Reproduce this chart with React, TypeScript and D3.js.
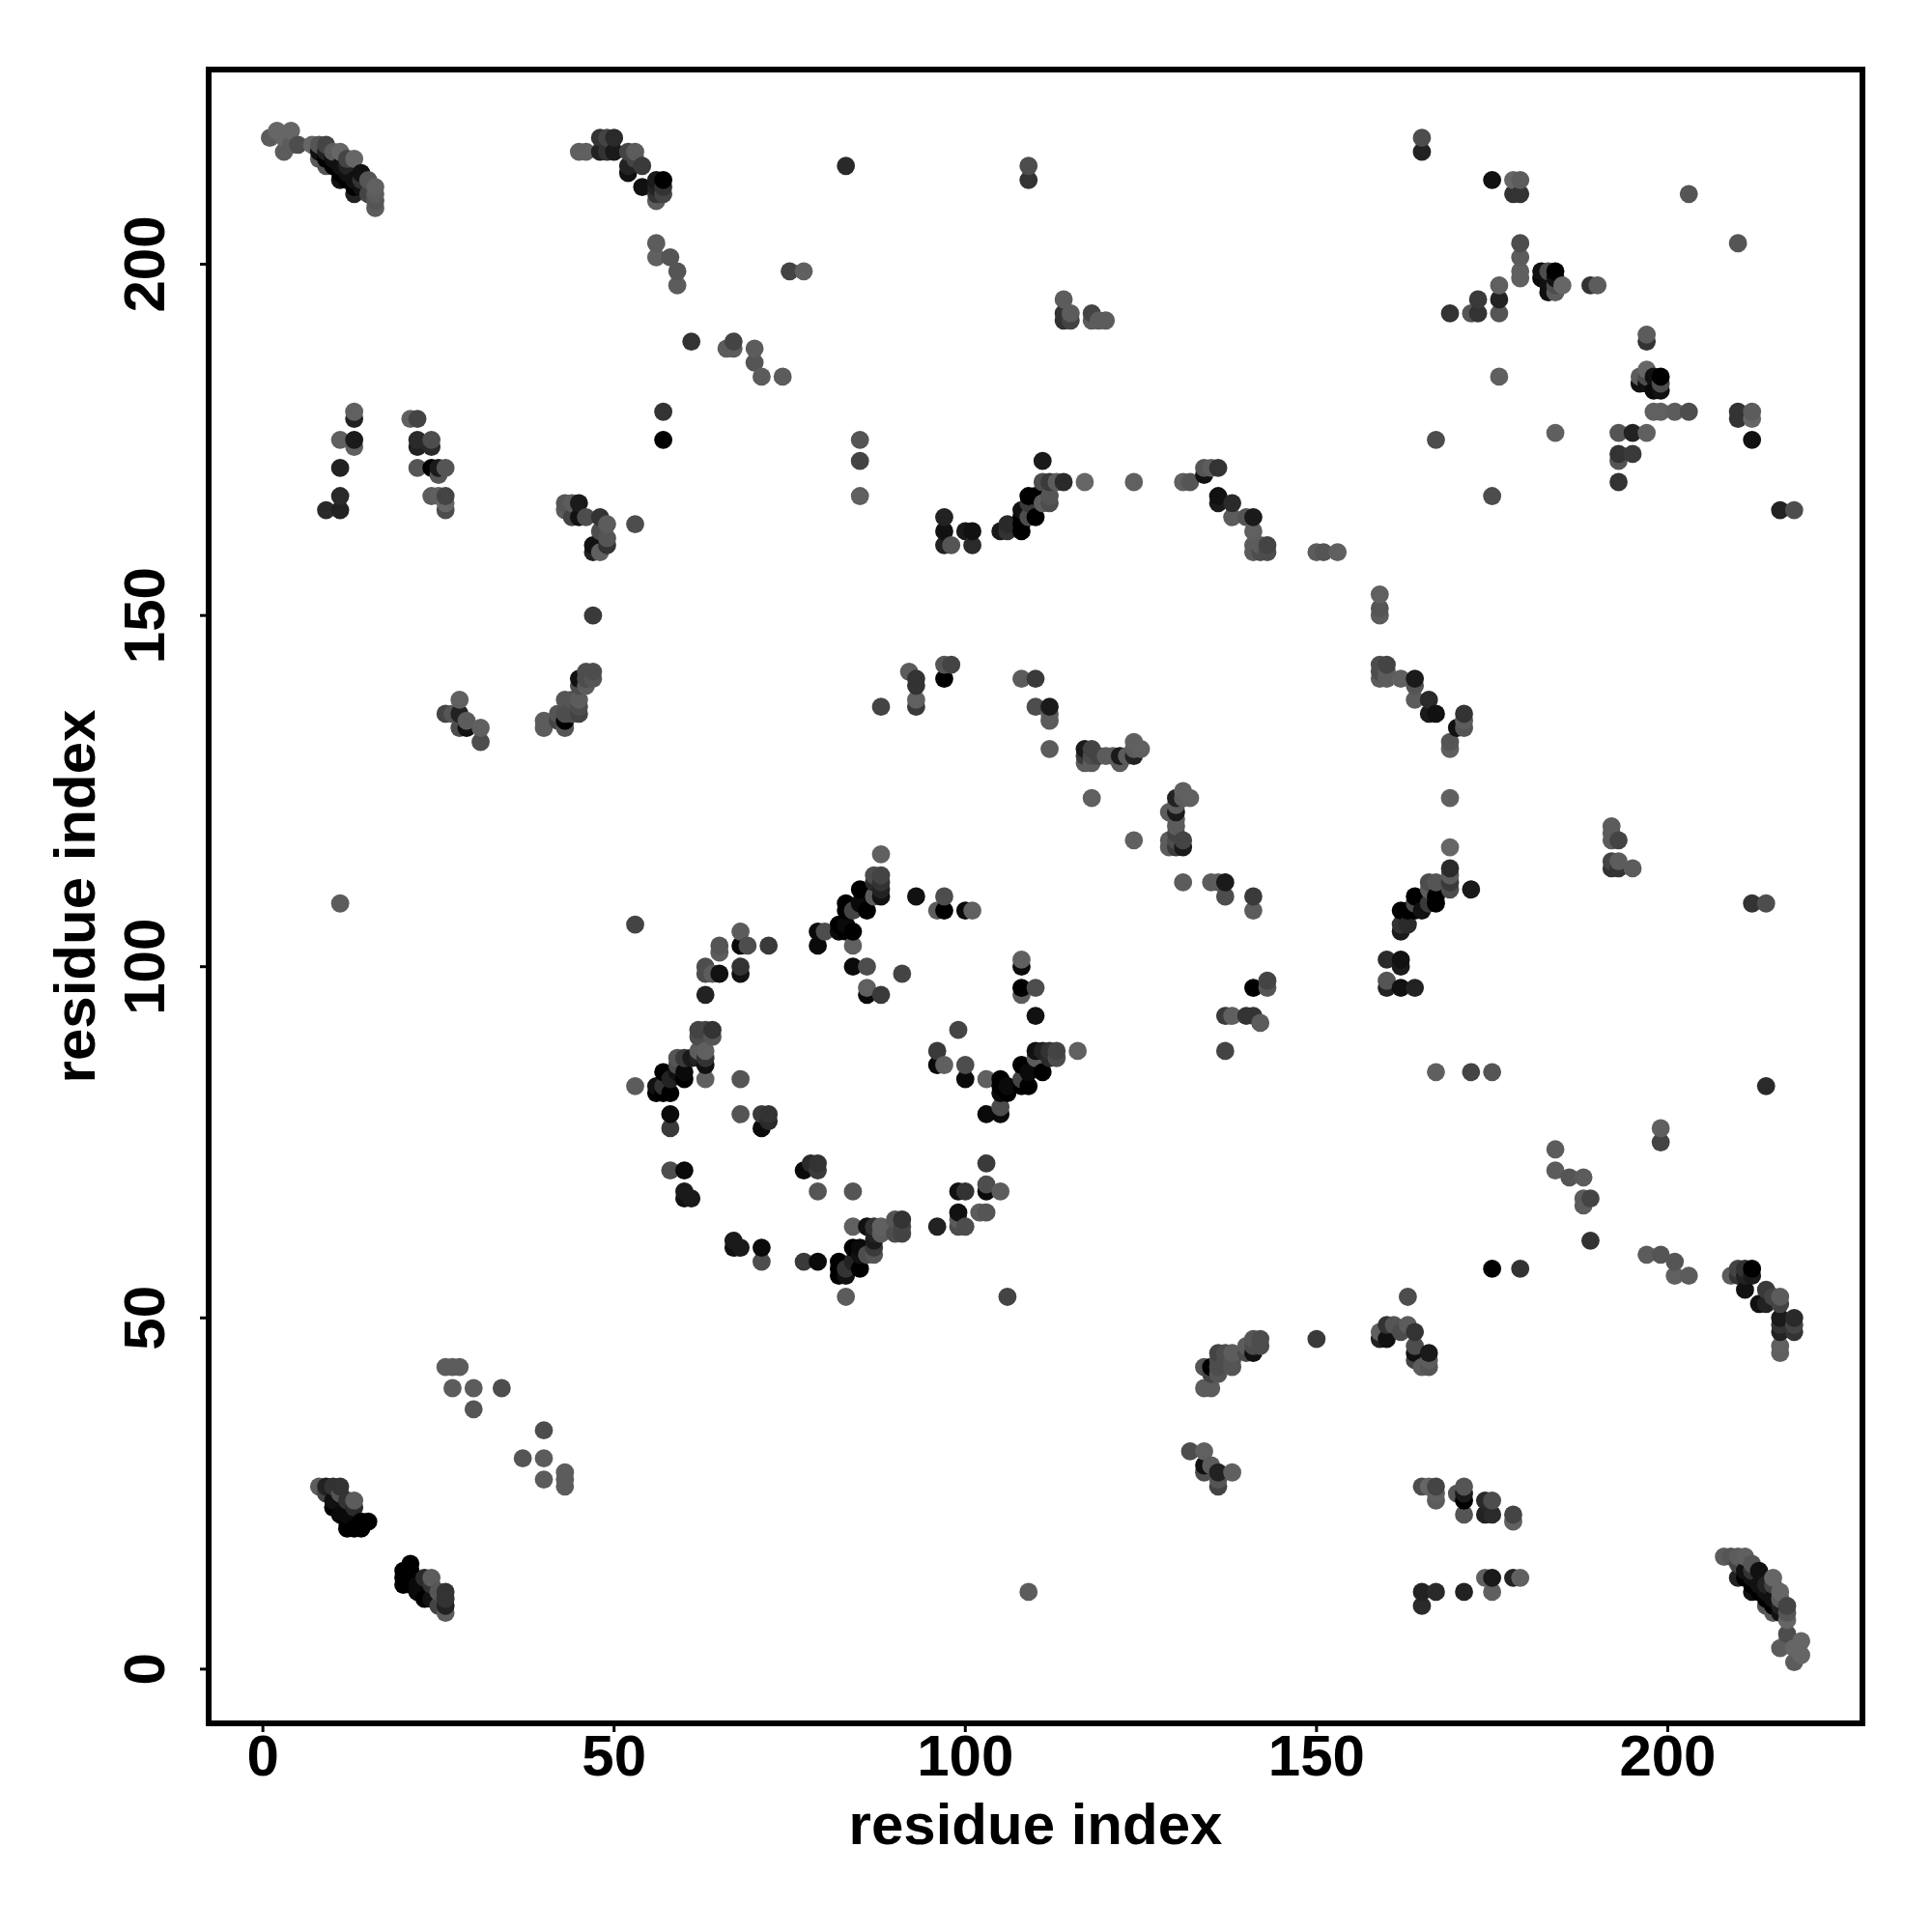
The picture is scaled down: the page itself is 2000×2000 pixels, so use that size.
import React from "react";
import * as d3 from "d3";

// Contact lists: [residue i, residue j, grey level 0..0x66], i < j; the map is symmetric.
const terminalContacts = [
  [1,218,0x5c],[2,219,0x66],[3,216,0x5c],[3,218,0x66],[4,217,0x5c],[4,219,0x66],[5,217,0x4d],[7,217,0x66],[8,217,0x55],[9,217,0x44],
  [8,216,0x11],[9,215,0x00],[10,214,0x00],[11,213,0x00],[12,212,0x00],[13,211,0x00],
  [8,215,0x5c],[9,214,0x55],[9,216,0x22],[10,216,0x5c],[10,215,0x11],[11,216,0x66],[11,214,0x11],[11,212,0x11],[12,215,0x44],[12,213,0x11],
  [12,214,0x22],[13,212,0x11],[13,210,0x22],[13,215,0x66],[14,213,0x11],[14,212,0x33],[14,211,0x11],[15,212,0x55],[15,210,0x44],
  [16,211,0x60],[16,210,0x5c],[16,209,0x55],[16,208,0x5c],
];
const helixFiftyContacts = [
  [45,216,0x60],[46,216,0x60],[48,218,0x33],[48,216,0x22],[49,218,0x44],[49,216,0x33],[50,218,0x2a],[50,216,0x1a],[52,216,0x44],[53,216,0x5c],[53,215,0x44],
  [52,214,0x22],[52,213,0x11],[54,214,0x3a],[54,211,0x11],[56,209,0x5c],[56,210,0x33],[56,211,0x22],[56,212,0x1a],[57,210,0x44],[57,211,0x33],[57,212,0x00],
  [56,203,0x5c],[56,201,0x60],[58,201,0x55],[59,199,0x5c],[59,197,0x60],[75,199,0x4d],[77,199,0x66],[61,189,0x33],[66,188,0x60],[67,188,0x5c],[67,189,0x4d],
  [70,188,0x60],[70,186,0x55],[71,184,0x5c],[74,184,0x60],[57,179,0x33],[57,175,0x00],
];
const earlyLongRange = [
  [13,179,0x60],[13,178,0x22],[11,175,0x60],[13,175,0x1a],[13,174,0x60],[11,171,0x22],[11,167,0x2a],[9,165,0x2a],[11,165,0x22],
  [21,178,0x60],[22,178,0x44],[22,175,0x2a],[22,174,0x22],[24,175,0x4d],[24,174,0x2a],[22,171,0x55],[24,171,0x00],[25,171,0x1a],[25,170,0x55],[26,171,0x55],
  [24,167,0x5c],[25,167,0x60],[26,167,0x44],[26,166,0x66],[26,165,0x4d],[11,109,0x5c],
  [43,166,0x55],[43,165,0x5c],[44,166,0x5c],[44,164,0x44],[45,166,0x1a],[45,164,0x11],[46,164,0x4d],[48,164,0x33],[49,163,0x5c],[48,162,0x4d],[49,161,0x55],[49,160,0x33],
  [47,160,0x11],[47,159,0x22],[48,159,0x60],[53,163,0x4d],[47,150,0x3a],
  [26,136,0x44],[28,138,0x60],[27,136,0x55],[28,136,0x22],[28,134,0x4d],[29,135,0x5c],[29,134,0x11],[31,134,0x60],[31,132,0x4d],
  [40,135,0x5c],[40,134,0x5c],[42,135,0x44],[43,135,0x00],[43,134,0x55],[42,136,0x55],[43,136,0x4d],[43,138,0x55],[44,138,0x55],[44,137,0x4d],[44,136,0x4d],[45,137,0x4d],[45,136,0x44],[45,138,0x5c],[45,140,0x4d],[45,141,0x11],
  [46,141,0x4d],[47,142,0x4d],[46,142,0x4d],[47,141,0x55],[46,140,0x5c],
];
const shortRangeContacts = [
  [26,43,0x5c],[27,43,0x5c],[28,43,0x5c],[27,40,0x5c],[30,40,0x5c],[34,40,0x4d],[30,37,0x55],
  [8,26,0x5c],[9,26,0x22],[10,26,0x33],[11,26,0x33],[9,25,0x44],[10,24,0x11],[10,23,0x00],[11,25,0x55],[12,24,0x33],[13,24,0x5c],[13,23,0x2a],
  [12,21,0x00],[12,20,0x00],[13,20,0x00],[14,20,0x00],[14,21,0x00],[15,21,0x00],[12,22,0x0a],[11,22,0x0a],
];
const ringContacts = [
  [53,106,0x44],[88,116,0x60],[87,113,0x4d],[88,113,0x44],[87,112,0x2a],[88,112,0x33],[88,111,0x22],[88,110,0x11],[87,110,0x5c],[85,111,0x00],[83,109,0x00],[85,109,0x0a],
  [86,108,0x00],[83,108,0x00],[84,108,0x44],[82,106,0x00],[83,106,0x0a],[84,105,0x00],[82,105,0x0a],[83,105,0x00],[79,105,0x0a],[80,105,0x4d],[79,103,0x0a],[84,103,0x60],
  [84,100,0x0a],[86,100,0x4d],[91,99,0x44],[86,97,0x60],[86,96,0x0a],[88,96,0x3a],[93,110,0x11],[97,110,0x4d],[96,108,0x5c],[97,108,0x00],[100,108,0x0a],[101,108,0x60],
  [72,103,0x3a],[68,105,0x5c],[68,103,0x0a],[69,103,0x4d],[65,103,0x55],[65,102,0x5c],[63,100,0x4d],[63,99,0x4d],[64,99,0x5c],[65,99,0x11],[68,100,0x33],[68,99,0x11],[63,96,0x22],
  [62,91,0x44],[63,91,0x44],[64,91,0x33],[62,90,0x4d],[64,90,0x55],[62,88,0x5c],[63,88,0x60],[63,87,0x33],[63,86,0x11],[62,87,0x22],[61,87,0x1a],[60,87,0x3a],[59,87,0x55],[59,86,0x4d],
  [60,84,0x00],[60,85,0x0a],[59,85,0x11],[58,84,0x22],[57,85,0x00],[56,83,0x11],[56,82,0x00],[57,82,0x00],[58,82,0x00],[57,83,0x33],[63,84,0x60],[68,84,0x55],[53,83,0x5c],
  [58,79,0x0a],[58,77,0x3a],[68,79,0x55],[71,79,0x3a],[72,79,0x33],[72,78,0x2a],[71,77,0x0a],
  [58,71,0x4d],[60,71,0x0a],[60,68,0x1a],[60,67,0x11],[61,67,0x1a],
];
const midRangeContacts = [
  [88,137,0x44],[92,142,0x5c],[93,141,0x33],[93,140,0x33],[93,138,0x60],[93,137,0x3a],[97,143,0x55],[98,143,0x44],[97,141,0x00],
  [108,141,0x5c],[110,141,0x3a],[110,137,0x4d],[112,137,0x1a],[112,136,0x5c],[112,135,0x5c],[112,131,0x5c],
  [117,131,0x1a],[117,130,0x3a],[117,129,0x5c],[118,131,0x44],[118,130,0x4d],[118,129,0x5c],[119,130,0x44],[120,130,0x5c],[121,130,0x5c],[122,130,0x1a],[122,129,0x5c],[123,130,0x5c],
  [124,132,0x60],[124,131,0x5c],[124,130,0x22],[125,131,0x60],[118,124,0x60],
];
const upperRightContacts = [
  [83,214,0x2a],[109,214,0x55],[109,212,0x33],[165,218,0x55],[165,216,0x22],[114,195,0x66],[114,193,0x33],[114,192,0x33],[115,193,0x5c],[115,192,0x44],
  [118,193,0x4d],[118,192,0x55],[119,192,0x5c],[120,192,0x5c],[85,175,0x5c],[85,172,0x44],[85,167,0x66],
  [175,212,0x11],[178,212,0x66],[179,212,0x5c],[178,210,0x33],[179,210,0x33],[203,210,0x55],
  [179,203,0x4d],[179,201,0x5c],[179,199,0x60],[179,198,0x60],[176,197,0x60],[176,195,0x22],[173,195,0x3a],[173,193,0x33],[172,193,0x55],[169,193,0x33],[176,193,0x55],
  [182,199,0x11],[182,198,0x0a],[183,199,0x4d],[184,199,0x11],[183,197,0x11],[183,196,0x11],[184,196,0x55],[185,197,0x66],[184,198,0x11],[184,197,0x5c],[189,197,0x33],[190,197,0x55],
  [167,175,0x4d],[176,184,0x60],
];
const secondHalfContacts = [
  [120,192,0x5c],[119,192,0x5c],[118,192,0x5c],[118,193,0x44],[115,192,0x44],[114,192,0x33],[115,193,0x5c],[114,193,0x33],[114,195,0x5c],
  [109,212,0x33],[109,214,0x4d],[85,167,0x60],[85,172,0x44],[85,175,0x55],[77,199,0x60],[75,199,0x44],
  [74,184,0x5c],[71,184,0x5c],[70,186,0x55],[70,188,0x5c],[67,188,0x5c],[67,189,0x44],[66,188,0x5c],[61,189,0x33],
  [57,175,0x00],[57,179,0x33],[59,197,0x5c],[59,199,0x55],[58,201,0x55],[179,212,0x5c],[178,212,0x66],[175,212,0x11],[179,210,0x33],[178,210,0x33],
  [165,216,0x22],[165,218,0x4d],[176,193,0x55],[176,195,0x22],[176,197,0x60],[173,193,0x33],[173,195,0x3a],[172,193,0x55],[169,193,0x33],
  [184,196,0x5c],[185,197,0x66],[183,196,0x11],[184,197,0x4d],[184,198,0x11],[184,199,0x00],[182,198,0x0a],[183,199,0x4d],[182,199,0x11],
  [179,198,0x60],[179,199,0x60],[179,201,0x5c],[179,203,0x4d],[190,197,0x5c],[189,197,0x33],
];
const hoopContacts = [
  [97,164,0x22],[97,162,0x11],[97,160,0x22],[98,160,0x55],[100,162,0x1a],[101,162,0x11],[101,160,0x2a],
  [111,172,0x1a],[111,169,0x4d],[112,169,0x3a],[113,169,0x5c],[114,169,0x2a],[117,169,0x66],[124,169,0x60],[131,169,0x60],[132,169,0x55],
  [134,171,0x55],[135,171,0x5c],[134,170,0x11],[136,171,0x33],
  [109,167,0x00],[110,167,0x00],[112,167,0x55],[112,166,0x4d],[111,166,0x5c],[109,166,0x3a],[108,165,0x11],[110,164,0x00],[108,164,0x00],[108,163,0x00],[108,162,0x00],[109,164,0x4d],
  [106,163,0x2a],[105,162,0x1a],[106,162,0x33],
  [136,167,0x11],[136,166,0x1a],[138,166,0x2a],[138,164,0x5c],[140,164,0x55],[141,164,0x1a],[141,162,0x60],[141,160,0x5c],[141,159,0x5c],[142,160,0x5c],[142,159,0x4d],[143,160,0x44],[143,159,0x4d],
  [150,159,0x5c],[151,159,0x55],[153,159,0x60],
];

const xTicks = [0, 50, 100, 150, 200];
const yTicks = [0, 50, 100, 150, 200];
const axisLabel = "residue index";

const allPairs = [
  ...terminalContacts, ...helixFiftyContacts, ...earlyLongRange, ...shortRangeContacts, ...ringContacts,
  ...midRangeContacts, ...upperRightContacts, ...secondHalfContacts, ...hoopContacts,
];

const SIZE = { left: 216, right: 1928, top: 72, bottom: 1784 };
const domain: [number, number] = [-7.72, 227.72];
const fontFamily = "'Liberation Sans', Arial, sans-serif";

export default function App() {
  const x = d3.scaleLinear().domain(domain).range([SIZE.left, SIZE.right]);
  const y = d3.scaleLinear().domain(domain).range([SIZE.bottom, SIZE.top]);
  const seen = new Map<string, { x: number; y: number; g: number }>();
  allPairs.forEach(([i, j, g]) => {
    seen.set(`${i}-${j}`, { x: i, y: j, g });
    seen.set(`${j}-${i}`, { x: j, y: i, g });
  });
  const points = Array.from(seen.values()).sort((a, b) => d3.ascending(a.x, b.x) || d3.ascending(a.y, b.y));
  const cx = (SIZE.left + SIZE.right) / 2;
  const cy = (SIZE.top + SIZE.bottom) / 2;
  return (
    <svg width={2000} height={2000} style={{ position: "absolute", left: 0, top: 0, background: "#fff" }}>
      {points.map((p, k) => (
        <circle key={k} cx={x(p.x)} cy={y(p.y)} r={9.4} fill={d3.rgb(p.g, p.g, p.g).formatHex()} />
      ))}
      <rect x={SIZE.left} y={SIZE.top} width={SIZE.right - SIZE.left} height={SIZE.bottom - SIZE.top} fill="none" stroke="#000" strokeWidth={6} />
      {xTicks.map((t) => (
        <g key={t}>
          <line x1={x(t)} x2={x(t)} y1={SIZE.bottom} y2={SIZE.bottom + 9} stroke="#000" strokeWidth={3} />
          <text x={x(t)} y={1838} textAnchor="middle" fontFamily={fontFamily} fontWeight="bold" fontSize={60}>{t}</text>
        </g>
      ))}
      {yTicks.map((t) => (
        <g key={t}>
          <line x1={SIZE.left} x2={SIZE.left - 9} y1={y(t)} y2={y(t)} stroke="#000" strokeWidth={3} />
          <text transform={`translate(170,${y(t)}) rotate(-90)`} textAnchor="middle" fontFamily={fontFamily} fontWeight="bold" fontSize={60}>{t}</text>
        </g>
      ))}
      <text x={cx} y={1909} textAnchor="middle" fontFamily={fontFamily} fontWeight="bold" fontSize={60}>{axisLabel}</text>
      <text transform={`translate(98,${cy}) rotate(-90)`} textAnchor="middle" fontFamily={fontFamily} fontWeight="bold" fontSize={60}>{axisLabel}</text>
    </svg>
  );
}
